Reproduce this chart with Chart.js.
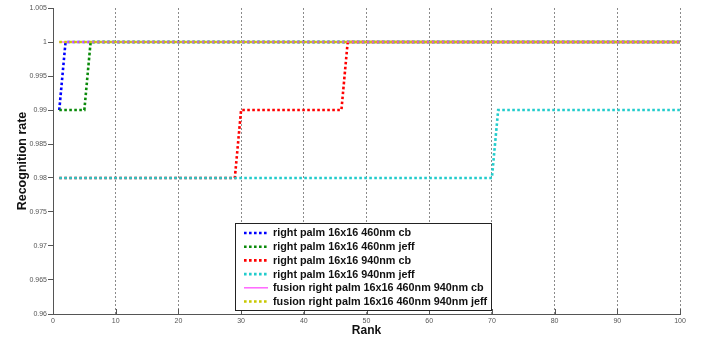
<!DOCTYPE html>
<html>
<head>
<meta charset="utf-8">
<script src="https://cdn.jsdelivr.net/npm/chart.js@4/dist/chart.umd.min.js"></script>
<style>
  body { margin: 0; background: #fff; }
  #wrap { width: 701px; height: 337px; }
</style>
</head>
<body>
<div id="wrap"><canvas id="rankChart" width="701" height="337"></canvas></div>
<script>
// recognition rate per rank, stored as the points where the curve changes
const cb460Rank = [1, 2, 100];
const cb460Rate = [0.99, 1, 1];
const jeff460Rank = [1, 5, 6, 100];
const jeff460Rate = [0.99, 0.99, 1, 1];
const cb940Rank = [1, 29, 30, 46, 47, 100];
const cb940Rate = [0.98, 0.98, 0.99, 0.99, 1, 1];
const jeff940Rank = [1, 70, 71, 100];
const jeff940Rate = [0.98, 0.98, 0.99, 0.99];
const fusionCbRank = [1, 100];
const fusionCbRate = [1, 1];
const fusionJeffRank = [1, 100];
const fusionJeffRate = [1, 1];

const seriesNames = [
    'right palm 16x16 460nm cb',
    'right palm 16x16 460nm jeff',
    'right palm 16x16 940nm cb',
    'right palm 16x16 940nm jeff',
    'fusion right palm 16x16 460nm 940nm cb',
    'fusion right palm 16x16 460nm 940nm jeff'
];
const xTicks = [0, 10, 20, 30, 40, 50, 60, 70, 80, 90, 100];

const FONT = '"Liberation Sans", Arial, sans-serif';

function pts(ranks, rates) {
    return ranks.map((r, i) => ({ x: r, y: rates[i] }));
}

function dotted(label, ranks, rates, color, order) {
    return {
        label: label,
        data: pts(ranks, rates),
        borderColor: color,
        backgroundColor: color,
        borderWidth: 2.6,
        borderDash: [2.6, 2.4],
        borderCapStyle: 'butt',
        pointRadius: 0,
        tension: 0,
        order: order
    };
}

// legend box drawn inside the plot, lower middle
const boxLegend = {
    id: 'boxLegend',
    afterDraw(chart) {
        const ctx = chart.ctx;
        const x0 = 235, y0 = 223, w = 256, h = 87;
        ctx.save();
        ctx.fillStyle = '#fff';
        ctx.fillRect(x0, y0, w, h);
        ctx.strokeStyle = '#222';
        ctx.lineWidth = 1;
        ctx.setLineDash([]);
        ctx.strokeRect(x0 + 0.5, y0 + 0.5, w, h);
        ctx.font = 'bold 10.8px ' + FONT;
        ctx.textBaseline = 'middle';
        chart.data.datasets.forEach((ds, i) => {
            const y = y0 + 10 + i * 13.7;
            ctx.strokeStyle = ds.borderColor;
            ctx.lineWidth = ds.borderWidth;
            ctx.setLineDash(ds.borderDash || []);
            ctx.lineCap = 'butt';
            ctx.beginPath();
            ctx.moveTo(x0 + 9, y);
            ctx.lineTo(x0 + 33, y);
            ctx.stroke();
            ctx.setLineDash([]);
            ctx.fillStyle = '#111';
            ctx.fillText(ds.label, x0 + 38, y + 0.5);
        });
        ctx.restore();
    }
};

// short solid ticks pointing up from the rank axis
const innerTicks = {
    id: 'innerTicks',
    afterDatasetsDraw(chart) {
        const ctx = chart.ctx;
        const xs = chart.scales.x;
        const bottom = chart.chartArea.bottom;
        ctx.save();
        ctx.strokeStyle = '#555';
        ctx.lineWidth = 1;
        xTicks.forEach(t => {
            const px = Math.round(xs.getPixelForValue(t)) + 0.5;
            ctx.beginPath();
            ctx.moveTo(px, bottom);
            ctx.lineTo(px, bottom - 5);
            ctx.stroke();
        });
        ctx.restore();
    }
};

new Chart(document.getElementById('rankChart'), {
    type: 'line',
    data: {
        datasets: [
            dotted(seriesNames[0], cb460Rank, cb460Rate, '#0000ff', 5),
            dotted(seriesNames[1], jeff460Rank, jeff460Rate, '#0a8a0a', 4),
            dotted(seriesNames[2], cb940Rank, cb940Rate, '#ff0000', 3),
            dotted(seriesNames[3], jeff940Rank, jeff940Rate, '#22cccc', 2),
            {
                label: seriesNames[4],
                data: pts(fusionCbRank, fusionCbRate),
                borderColor: '#ff66ff',
                backgroundColor: '#ff66ff',
                borderWidth: 1.5,
                pointRadius: 0,
                order: 1
            },
            dotted(seriesNames[5], fusionJeffRank, fusionJeffRate, '#c8c800', 0)
        ]
    },
    options: {
        responsive: false,
        animation: false,
        layout: { padding: { top: 8, right: 21, left: 0, bottom: 0 } },
        plugins: {
            legend: { display: false },
            tooltip: { enabled: false }
        },
        scales: {
            x: {
                type: 'linear',
                min: 0,
                max: 100,
                afterFit(scale) { scale.height = 23; },
                afterBuildTicks(scale) { scale.ticks = xTicks.map(v => ({ value: v })); },
                // border.dash sets the dotted grid lines; the axis itself stays solid
                border: { display: true, color: '#555', width: 1, dash: [2, 2] },
                grid: {
                    color: '#8a8a8a',
                    lineWidth: 1,
                    drawTicks: false,
                    tickLength: 0
                },
                ticks: {
                    padding: 3,
                    color: '#555',
                    font: { family: FONT, size: 7 },
                    maxRotation: 0
                },
                title: {
                    display: true,
                    text: 'Rank',
                    color: '#111',
                    font: { family: FONT, size: 12, weight: 'bold', lineHeight: 1 },
                    padding: { top: 0, bottom: 0 }
                }
            },
            y: {
                min: 0.96,
                max: 1.005,
                afterFit(scale) { scale.width = 53; },
                border: { display: true, color: '#555', width: 1 },
                grid: {
                    drawOnChartArea: false,
                    drawTicks: true,
                    tickLength: 5,
                    color: '#555'
                },
                ticks: {
                    stepSize: 0.005,
                    padding: 1,
                    color: '#555',
                    font: { family: FONT, size: 7 },
                    callback: v => String(parseFloat(v.toFixed(3)))
                },
                title: {
                    display: true,
                    text: 'Recognition rate',
                    color: '#111',
                    font: { family: FONT, size: 12.5, weight: 'bold' },
                    padding: { top: 15, bottom: 0 }
                }
            }
        }
    },
    plugins: [innerTicks, boxLegend]
});
</script>
</body>
</html>
